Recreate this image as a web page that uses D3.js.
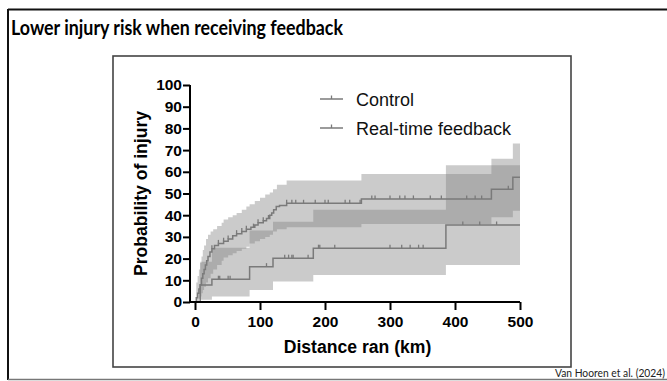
<!DOCTYPE html>
<html>
<head>
<meta charset="utf-8">
<script src="https://cdn.jsdelivr.net/npm/d3@7"></script>
<style>
  html, body { margin: 0; padding: 0; background: #fff; }
  svg { display: block; }
</style>
</head>
<body>
<svg id="chart" width="667" height="381"></svg>
<script>
// ---- data ----
const titleText = "Lower injury risk when receiving feedback";
const sourceText = "Van Hooren et al. (2024)";
const seriesNames = ["Control", "Real-time feedback"];
const xTicks = [0, 100, 200, 300, 400, 500];
const yTicks = [0, 10, 20, 30, 40, 50, 60, 70, 80, 90, 100];

// Control: cumulative incidence step points [km, %]
const controlCurve = [
  [0,0],[2,2],[4,4],[6,6],[8,8],[10,11],[12,13],[14,15],[16,17],[18,19],[20,21],
  [23,23],[26,24.5],[30,26],[36,27],[44,28],[51,29],[58,30.5],[64,31.5],[72,32.5],
  [79,33.5],[86,34.5],[92,35.5],[97,36.5],[105,37.5],[110,38.5],[115,40],[118,41],
  [121,42.5],[125,44],[130,44.5],[141,45.5],[256,47.5],[456,52],[489,57.5],[500,57.5]
];
// Control 95% band [km, lower, upper]
const controlBand = [
  [0,0,0],[2,0,9],[4,0.5,12],[6,1.5,15],[8,2.5,18],[10,4,21],[12,5.5,24],[14,7,26],
  [17,9,29],[20,11,31],[24,13,32.5],[28,15,33.5],[34,17,35],[41,19,36.5],[44,20.5,38],
  [51,21.5,39],[58,22.5,40],[64,23.5,41],[72,24.5,42.5],[79,25.5,44],[84,27,45],
  [92,28,46.5],[100,29,48],[108,30,49.5],[115,31,50.5],[120,32.5,52],[126,33.5,54],
  [141,34.5,56],[256,36,59],[456,39,66],[489,42,73],[500,42,73]
];
const controlCensor = [26,36,44,51,64,72,79,90,97,105,113,141,149,155,167,185,200,205,
  231,238,254,272,277,300,315,323,336,362,379,418,431,441,482];

// Real-time feedback
const feedbackCurve = [
  [0,0],[8,7.8],[26,10.5],[84,16.3],[120,20.2],[182,24.8],[386,35.5],[500,35.5]
];
const feedbackBand = [
  [0,0,0],[8,1,18.6],[26,2.5,25],[84,5.5,33],[120,9.4,37],[182,12.5,42.5],[386,17,63],[500,17,63]
];
const feedbackCensor = [36,38,51,54,110,138,144,149,151,174,190,192,215,300,318,331,344,351,412,438,464];

// ---- layout ----
const svg = d3.select("#chart");
const x = d3.scaleLinear().domain([0, 500]).range([195, 520]);
const y = d3.scaleLinear().domain([0, 100]).range([302, 85]);

// outer frame
svg.append("line").attr("x1", 8).attr("x2", 667).attr("y1", 9.5).attr("y2", 9.5)
  .attr("stroke", "#111").attr("stroke-width", 2);
svg.append("line").attr("x1", 8).attr("x2", 8).attr("y1", 9).attr("y2", 380)
  .attr("stroke", "#111").attr("stroke-width", 2);
svg.append("line").attr("x1", 8).attr("x2", 667).attr("y1", 379.5).attr("y2", 379.5)
  .attr("stroke", "#777").attr("stroke-width", 1.5);

svg.append("text").attr("x", 11).attr("y", 35)
  .attr("font-family", "Lato, 'Open Sans', sans-serif").attr("font-weight", "bold")
  .attr("font-size", 20).attr("fill", "#000")
  .attr("textLength", 332).attr("lengthAdjust", "spacingAndGlyphs")
  .text(titleText);

svg.append("text").attr("x", 555).attr("y", 376.5)
  .attr("font-family", "Lato, sans-serif").attr("font-size", 10.5).attr("fill", "#222")
  .attr("textLength", 110).attr("lengthAdjust", "spacingAndGlyphs")
  .text(sourceText);

// inner picture box
svg.append("rect").attr("x", 113).attr("y", 56).attr("width", 458).attr("height", 311)
  .attr("fill", "#fff").attr("stroke", "#444").attr("stroke-width", 1.6);

const plot = svg.append("g");

const area = d3.area().curve(d3.curveStepAfter)
  .x(d => x(d[0])).y0(d => y(d[1])).y1(d => y(d[2]));
const line = d3.line().curve(d3.curveStepAfter).x(d => x(d[0])).y(d => y(d[1]));

[controlBand, feedbackBand].forEach(b => {
  plot.append("path").attr("d", area(b))
    .attr("fill", "#7c7c7c").attr("fill-opacity", 0.4).attr("stroke", "none");
});

function valueAt(curve, km) {
  let v = 0;
  for (const p of curve) { if (p[0] <= km) v = p[1]; }
  return v;
}

[[controlCurve, controlCensor], [feedbackCurve, feedbackCensor]].forEach(([c, cens]) => {
  plot.append("path").attr("d", line(c)).attr("fill", "none")
    .attr("stroke", "#7a7a7a").attr("stroke-width", 1.5);
  plot.selectAll(null).data(cens).enter().append("line")
    .attr("x1", d => x(d)).attr("x2", d => x(d))
    .attr("y1", d => y(valueAt(c, d))).attr("y2", d => y(valueAt(c, d)) - 3.5)
    .attr("stroke", "#7a7a7a").attr("stroke-width", 1.3);
});

// axes
const axFont = "Liberation Sans, Arial, sans-serif";
const yAxis = svg.append("g").attr("transform", "translate(190,0)")
  .call(d3.axisLeft(y).tickValues(yTicks).tickSize(7).tickPadding(1).tickSizeOuter(0));
const xAxis = svg.append("g").attr("transform", "translate(0,302)")
  .call(d3.axisBottom(x).tickValues(xTicks).tickSize(8).tickPadding(6).tickSizeOuter(0));
[yAxis, xAxis].forEach(g => {
  g.selectAll("path.domain").attr("stroke", "#000").attr("stroke-width", 2);
  g.selectAll(".tick line").attr("stroke", "#000").attr("stroke-width", 2);
  g.selectAll("text").attr("font-family", axFont).attr("font-weight", "bold")
    .attr("font-size", 15.5).attr("fill", "#000");
});
xAxis.select("path.domain").attr("d", "M190,0H" + x(500));
yAxis.select("path.domain").attr("d", "M0," + (y(0) + 1) + "V" + y(100));

svg.append("text").attr("x", 357.5).attr("y", 353).attr("text-anchor", "middle")
  .attr("font-family", axFont).attr("font-weight", "bold").attr("font-size", 17.6)
  .text("Distance ran (km)");
svg.append("text").attr("transform", "translate(147,193.5) rotate(-90)")
  .attr("text-anchor", "middle")
  .attr("font-family", axFont).attr("font-weight", "bold").attr("font-size", 17.6)
  .text("Probability of injury");

// legend
const leg = svg.append("g");
seriesNames.forEach((name, i) => {
  const ly = 99 + i * 29;
  leg.append("line").attr("x1", 320).attr("x2", 343).attr("y1", ly).attr("y2", ly)
    .attr("stroke", "#7a7a7a").attr("stroke-width", 1.5);
  leg.append("line").attr("x1", 331.5).attr("x2", 331.5).attr("y1", ly).attr("y2", ly - 3.5)
    .attr("stroke", "#7a7a7a").attr("stroke-width", 1.3);
  leg.append("text").attr("x", 356).attr("y", ly + 6.5)
    .attr("font-family", axFont).attr("font-size", 18).attr("fill", "#111").text(name);
});
</script>
</body>
</html>
